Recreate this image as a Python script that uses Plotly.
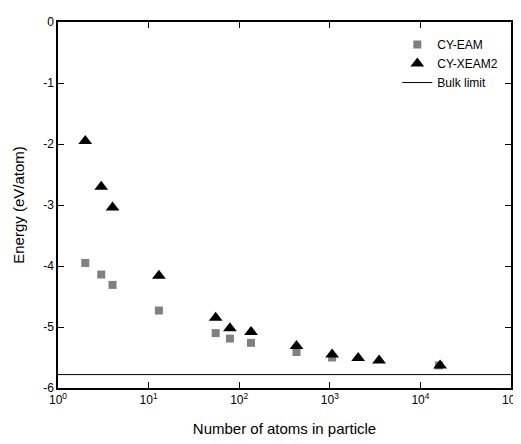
import plotly.graph_objects as go

eam_n = [2, 3, 4, 13, 55, 79, 135, 429, 1061, 16000]
eam_e = [-3.95, -4.14, -4.31, -4.73, -5.10, -5.19, -5.26, -5.41, -5.50, -5.63]

xeam_n = [2, 3, 4, 13, 55, 79, 135, 429, 1061, 2057, 3500, 16500]
xeam_e = [-1.95, -2.70, -3.04, -4.16, -4.85, -5.02, -5.08, -5.31, -5.45, -5.51, -5.55, -5.63]

bulk_x = [1, 100000]
bulk_limit = -5.78

x_tickvals = [1, 10, 100, 1000, 10000, 100000]
x_ticktext = ["10<sup>0</sup>", "10<sup>1</sup>", "10<sup>2</sup>", "10<sup>3</sup>", "10<sup>4</sup>", "10<sup>5</sup>"]
y_tickvals = [0, -1, -2, -3, -4, -5, -6]
y_ticktext = ["0", "-1", "-2", "-3", "-4", "-5", "-6"]

fig = go.Figure()
fig.add_trace(go.Scatter(x=eam_n, y=eam_e, mode="markers", name="CY-EAM",
                         marker=dict(symbol="square", size=8, color="#808080")))
fig.add_trace(go.Scatter(x=xeam_n, y=xeam_e, mode="markers", name="CY-XEAM2",
                         marker=dict(symbol="triangle-up", size=12, color="black")))
fig.add_trace(go.Scatter(x=bulk_x, y=[bulk_limit, bulk_limit], mode="lines", name="Bulk limit",
                         line=dict(color="black", width=1)))

font = "Liberation Sans, Arial, sans-serif"
fig.update_layout(
    width=513, height=436,
    margin=dict(l=50, r=10, t=14, b=56),
    paper_bgcolor="white", plot_bgcolor="white",
    font=dict(family=font, size=12, color="black"),
    showlegend=True,
    legend=dict(x=0.749, y=0.978, xanchor="left", yanchor="top",
                bgcolor="rgba(0,0,0,0)", font=dict(size=12), tracegroupgap=0,
                itemwidth=30),
    xaxis=dict(type="log", range=[0, 5], tickvals=x_tickvals, ticktext=x_ticktext,
               ticks="inside", ticklen=6, tickcolor="black", showline=True, linecolor="black",
               linewidth=1.5, mirror="ticks", showgrid=False, zeroline=False, automargin=False,
               title=dict(text="Number of atoms in particle", font=dict(size=15), standoff=17),
               tickfont=dict(size=12)),
    yaxis=dict(range=[-6, 0], tickvals=y_tickvals, ticktext=y_ticktext, ticks="inside", ticklen=6,
               tickcolor="black", showline=True, linecolor="black", linewidth=1.5, mirror="ticks",
               showgrid=False, zeroline=False, automargin=False,
               title=dict(text="Energy (eV/atom)", font=dict(size=15), standoff=15),
               tickfont=dict(size=12)),
)

fig.write_html("out.html")
